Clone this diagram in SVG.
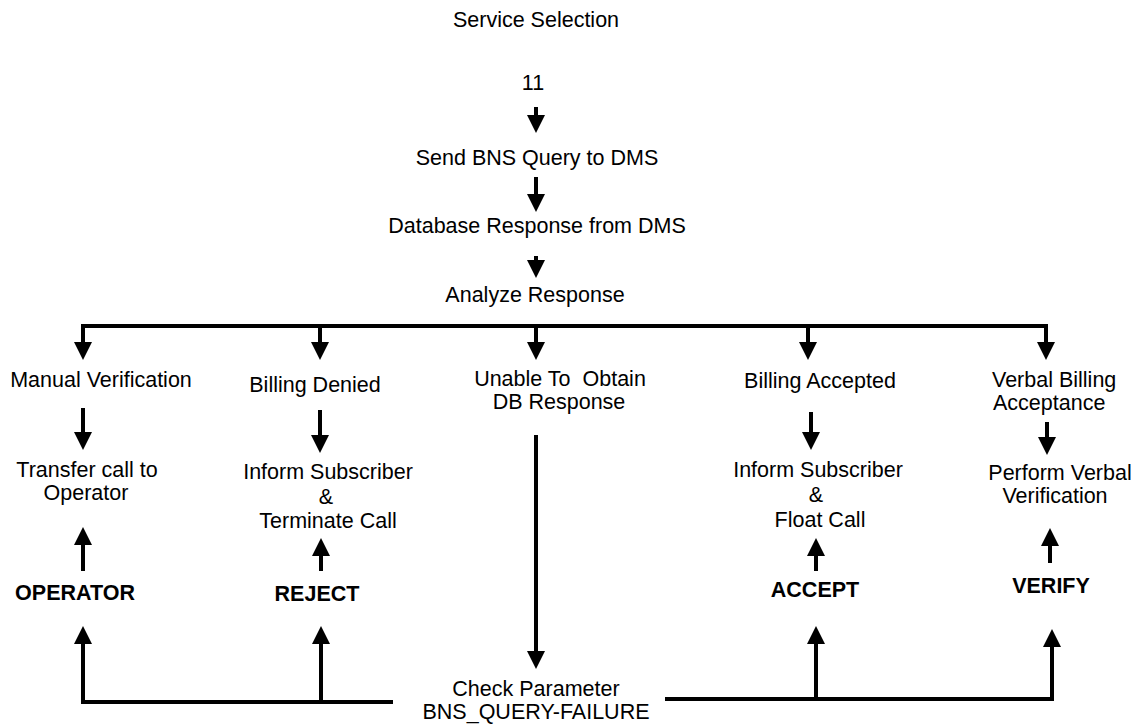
<svg xmlns="http://www.w3.org/2000/svg" width="1140" height="724" viewBox="0 0 1140 724">
  <style>
    text { font-family: "Liberation Sans", Arial, sans-serif; font-size: 21.5px; fill: #000; text-anchor: middle; white-space: pre; }
    .b { font-weight: bold; }
    .s { text-anchor: start; }
    .ln { stroke: #000; stroke-width: 4; fill: none; marker-end: url(#head); }
    .bar { stroke: #000; stroke-width: 4; fill: none; }
  </style>
  <defs>
    <!-- solid triangular arrowhead; the line stops at its base -->
    <marker id="head" markerUnits="userSpaceOnUse" markerWidth="18" markerHeight="18" viewBox="0 -9 18 18" refX="0" refY="0" orient="auto" overflow="visible">
      <path d="M0,-9 L18,0 L0,9 Z" fill="#000"/>
    </marker>
  </defs>

  <rect width="1140" height="724" fill="#fff"/>

  <g id="service-selection"><text x="536" y="27">Service Selection</text></g>
  <g id="step-11"><text x="533" y="90">11</text></g>
  <g id="send-query"><text x="537" y="165">Send BNS Query to DMS</text></g>
  <g id="db-response"><text x="537" y="233">Database Response from DMS</text></g>
  <g id="analyze"><text x="535" y="302">Analyze Response</text></g>

  <g id="manual-verification"><text x="101" y="387">Manual Verification</text></g>
  <g id="billing-denied"><text x="315" y="392">Billing Denied</text></g>
  <g id="unable-obtain">
    <text x="560" y="386">Unable To  Obtain</text>
    <text x="559" y="409">DB Response</text>
  </g>
  <g id="billing-accepted"><text x="820" y="388">Billing Accepted</text></g>
  <g id="verbal-acceptance">
    <text class="s" x="992" y="387">Verbal Billing</text>
    <text class="s" x="993" y="410">Acceptance</text>
  </g>

  <g id="transfer-operator">
    <text x="87" y="477">Transfer call to</text>
    <text x="86" y="500">Operator</text>
  </g>
  <g id="terminate-call">
    <text x="328" y="479">Inform Subscriber</text>
    <text x="326" y="504">&amp;</text>
    <text x="328" y="528">Terminate Call</text>
  </g>
  <g id="float-call">
    <text x="818" y="477">Inform Subscriber</text>
    <text x="816" y="502">&amp;</text>
    <text x="820" y="527">Float Call</text>
  </g>
  <g id="verbal-verification">
    <text x="1060" y="480">Perform Verbal</text>
    <text x="1055" y="503">Verification</text>
  </g>

  <g id="operator"><text class="b" x="75" y="600">OPERATOR</text></g>
  <g id="reject"><text class="b" x="317" y="601">REJECT</text></g>
  <g id="accept"><text class="b" x="815" y="597">ACCEPT</text></g>
  <g id="verify"><text class="b" x="1051" y="593">VERIFY</text></g>

  <g id="check-parameter">
    <text x="536" y="696">Check Parameter</text>
    <text x="536" y="719">BNS_QUERY-FAILURE</text>
  </g>

  <g id="connectors">
    <!-- main sequence -->
    <path class="ln" d="M536,107 V115"/>
    <path class="ln" d="M536,177 V194"/>
    <path class="ln" d="M536,256 V260"/>

    <!-- response branches -->
    <path class="bar" d="M83,344 V326 H1046 V344"/>
    <path class="ln" d="M83,326 V342"/>
    <path class="ln" d="M320,326 V342"/>
    <path class="ln" d="M536,326 V342"/>
    <path class="ln" d="M808,326 V342"/>
    <path class="ln" d="M1046,326 V342"/>

    <!-- branch to action -->
    <path class="ln" d="M83,408 V432"/>
    <path class="ln" d="M320,410 V435"/>
    <path class="ln" d="M811,412 V432"/>
    <path class="ln" d="M1047,422 V437"/>
    <path class="ln" d="M536,435 V651"/>

    <!-- parameter values back to actions -->
    <path class="ln" d="M83,571 V545"/>
    <path class="ln" d="M321,571 V556"/>
    <path class="ln" d="M816,571 V556"/>
    <path class="ln" d="M1050,563 V546"/>

    <!-- check parameter fan-out -->
    <path class="ln" d="M393,702 H83 V644"/>
    <path class="ln" d="M321,702 V644"/>
    <path class="ln" d="M665,699 H1052 V647"/>
    <path class="ln" d="M816,699 V644"/>
  </g>
</svg>
